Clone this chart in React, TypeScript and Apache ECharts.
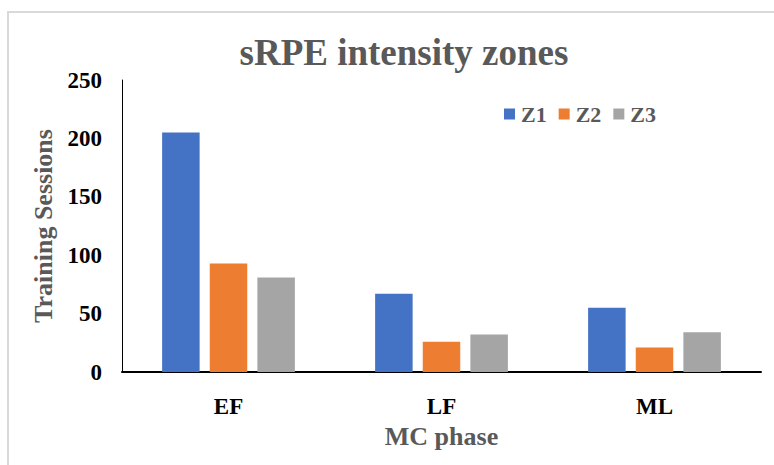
import React, { useEffect, useRef } from "react";
import * as echarts from "echarts";

const categories = ["EF", "LF", "ML"];
const seriesNames = ["Z1", "Z2", "Z3"];
const z1Values = [205, 67, 55];
const z2Values = [93, 26, 21];
const z3Values = [81, 32, 34];
const yTicks = { min: 0, max: 250, interval: 50 };

const colors = ["#4472C4", "#ED7D31", "#A5A5A5"];
const FONT = "'Liberation Serif', 'Times New Roman', serif";

export default function App() {
  const ref = useRef<HTMLDivElement>(null);
  useEffect(() => {
    if (!ref.current) return;
    const chart = echarts.init(ref.current, null, { renderer: "svg" });
    const values = [z1Values, z2Values, z3Values];
    chart.setOption({
      animation: false,
      backgroundColor: "#ffffff",
      title: {
        text: "sRPE intensity zones",
        left: 399,
        top: 29,
        textAlign: "center",
        textStyle: { fontFamily: FONT, fontSize: 37, fontWeight: "bold", color: "#595959" },
      },
      legend: {
        data: seriesNames,
        left: 504,
        top: 103,
        padding: 0,
        itemWidth: 11,
        itemHeight: 11,
        itemGap: 12,
        icon: "rect",
        textStyle: { fontFamily: FONT, fontSize: 22, fontWeight: "bold", color: "#595959", padding: [0, 0, 0, 1] },
      },
      graphic: [
        {
          type: "rect",
          shape: { x: 8, y: 12, width: 800, height: 500 },
          style: { fill: "none", stroke: "#d9d9d9", lineWidth: 2 },
          silent: true,
          z: -1,
        },
      ],
      grid: { left: 122, right: 13, top: 80, bottom: 93 },
      xAxis: {
        type: "category",
        data: categories,
        axisLine: { lineStyle: { color: "#000000", width: 2 } },
        axisTick: { show: false },
        axisLabel: { fontFamily: FONT, fontSize: 23, fontWeight: "bold", color: "#000000", margin: 23 },
        name: "MC phase",
        nameLocation: "middle",
        nameGap: 51,
        nameTextStyle: { fontFamily: FONT, fontSize: 26, fontWeight: "bold", color: "#595959" },
      },
      yAxis: {
        type: "value",
        min: yTicks.min,
        max: yTicks.max,
        interval: yTicks.interval,
        axisLine: { show: true, lineStyle: { color: "#000000", width: 1 } },
        axisTick: { show: false },
        splitLine: { show: false },
        axisLabel: { fontFamily: FONT, fontSize: 23, fontWeight: "bold", color: "#000000", margin: 20 },
        name: "Training Sessions",
        nameLocation: "middle",
        nameGap: 66,
        nameTextStyle: { fontFamily: FONT, fontSize: 26, fontWeight: "bold", color: "#595959" },
      },
      series: seriesNames.map((name, i) => ({
        name,
        type: "bar",
        data: values[i],
        barWidth: 37.5,
        barGap: "27%",
        itemStyle: { color: colors[i] },
      })),
    });
    return () => chart.dispose();
  }, []);
  return (
    <div
      ref={ref}
      style={{ position: "absolute", left: 0, top: 0, width: 774, height: 465 }}
    />
  );
}
